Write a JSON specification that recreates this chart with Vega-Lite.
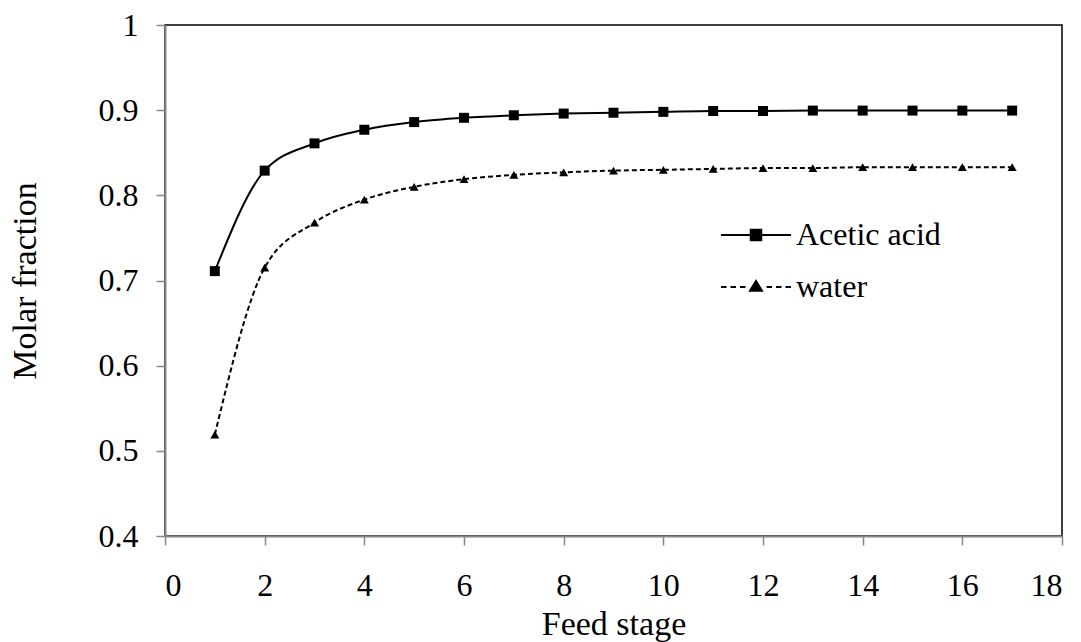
{
  "$schema": "https://vega.github.io/schema/vega-lite/v6.json",
  "autosize": "none",
  "padding": {"left": 165, "top": 25, "right": 19, "bottom": 106},
  "width": 897,
  "height": 511,
  "background": "white",
  "config": {
    "view": {"stroke": "black", "strokeWidth": 1.5},
    "font": "Liberation Serif",
    "axis": {
      "grid": false,
      "domainColor": "#868686",
      "domainWidth": 2,
      "tickColor": "#868686",
      "tickWidth": 1.5,
      "tickSize": 9,
      "labelFont": "Liberation Serif",
      "labelFontSize": 32,
      "labelColor": "black",
      "titleFont": "Liberation Serif",
      "titleFontSize": 34,
      "titleFontWeight": "normal",
      "titleColor": "black"
    },
    "legend": {
      "labelFont": "Liberation Serif"
    }
  },
  "data": {
    "values": [
      {"stage": 1, "series": "Acetic acid", "y": 0.711},
      {"stage": 2, "series": "Acetic acid", "y": 0.829},
      {"stage": 3, "series": "Acetic acid", "y": 0.861},
      {"stage": 4, "series": "Acetic acid", "y": 0.877},
      {"stage": 5, "series": "Acetic acid", "y": 0.886},
      {"stage": 6, "series": "Acetic acid", "y": 0.891},
      {"stage": 7, "series": "Acetic acid", "y": 0.894},
      {"stage": 8, "series": "Acetic acid", "y": 0.896},
      {"stage": 9, "series": "Acetic acid", "y": 0.897},
      {"stage": 10, "series": "Acetic acid", "y": 0.898},
      {"stage": 11, "series": "Acetic acid", "y": 0.899},
      {"stage": 12, "series": "Acetic acid", "y": 0.899},
      {"stage": 13, "series": "Acetic acid", "y": 0.8995},
      {"stage": 14, "series": "Acetic acid", "y": 0.8995},
      {"stage": 15, "series": "Acetic acid", "y": 0.8995},
      {"stage": 16, "series": "Acetic acid", "y": 0.8995},
      {"stage": 17, "series": "Acetic acid", "y": 0.8995},
      {"stage": 1, "series": "water", "y": 0.519},
      {"stage": 2, "series": "water", "y": 0.715},
      {"stage": 3, "series": "water", "y": 0.768},
      {"stage": 4, "series": "water", "y": 0.795},
      {"stage": 5, "series": "water", "y": 0.810},
      {"stage": 6, "series": "water", "y": 0.819},
      {"stage": 7, "series": "water", "y": 0.824},
      {"stage": 8, "series": "water", "y": 0.827},
      {"stage": 9, "series": "water", "y": 0.829},
      {"stage": 10, "series": "water", "y": 0.830},
      {"stage": 11, "series": "water", "y": 0.831},
      {"stage": 12, "series": "water", "y": 0.832},
      {"stage": 13, "series": "water", "y": 0.832},
      {"stage": 14, "series": "water", "y": 0.833},
      {"stage": 15, "series": "water", "y": 0.833},
      {"stage": 16, "series": "water", "y": 0.833},
      {"stage": 17, "series": "water", "y": 0.833}
    ]
  },
  "encoding": {
    "x": {
      "field": "stage", "type": "quantitative", "title": "Feed stage",
      "scale": {"domain": [0, 18], "nice": false, "zero": false},
      "axis": {"values": [0, 2, 4, 6, 8, 10, 12, 14, 16, 18], "labelPadding": 25, "titlePadding": 6}
    },
    "y": {
      "field": "y", "type": "quantitative", "title": "Molar  fraction",
      "scale": {"domain": [0.4, 1], "nice": false, "zero": false},
      "axis": {"values": [0.4, 0.5, 0.6, 0.7, 0.8, 0.9, 1], "format": "~g", "labelPadding": 18, "titlePadding": 56}
    }
  },
  "layer": [
    {
      "mark": {"type": "point", "filled": false, "color": "black", "strokeWidth": 2, "opacity": 1, "size": 0},
      "encoding": {
        "shape": {
          "field": "series", "type": "nominal",
          "scale": {"domain": ["Acetic acid", "water"], "range": [
            "M-1,0H1M-0.15,-0.15H0.15V0.15H-0.15ZM-0.15,-0.1H0.15M-0.15,-0.05H0.15M-0.15,0.05H0.15M-0.15,0.1H0.15",
            "M-1,0H-0.843M-0.729,0H-0.572M-0.458,0H-0.301M0.301,0H0.458M0.572,0H0.729M0.843,0H1M0,-0.17L0.17,0.11H-0.17ZM-0.03,-0.12H0.03M-0.061,-0.07H0.061M-0.091,-0.02H0.091M-0.121,0.03H0.121M-0.152,0.08H0.152"
          ]},
          "legend": {
            "title": null,
            "orient": "none",
            "legendX": 555,
            "legendY": 174,
            "symbolSize": 4900,
            "symbolFillColor": "black",
            "symbolStrokeColor": "black",
            "symbolStrokeWidth": 2,
            "symbolOpacity": 1,
            "labelFont": "Liberation Serif",
            "labelFontSize": 32,
            "labelColor": "black",
            "labelOffset": 4,
            "rowPadding": -18
          }
        }
      }
    },
    {
      "transform": [{"filter": "datum.series === 'Acetic acid'"}],
      "mark": {"type": "line", "interpolate": "monotone", "color": "black", "strokeWidth": 2}
    },
    {
      "transform": [{"filter": "datum.series === 'water'"}],
      "mark": {"type": "line", "interpolate": "monotone", "color": "black", "strokeWidth": 2, "strokeDash": [5, 3]}
    },
    {
      "transform": [{"filter": "datum.series === 'Acetic acid'"}],
      "mark": {"type": "point", "shape": "square", "filled": true, "color": "black", "opacity": 1, "size": 100}
    },
    {
      "transform": [{"filter": "datum.series === 'water'"}],
      "mark": {"type": "point", "shape": "triangle-up", "filled": true, "color": "black", "opacity": 1, "size": 80}
    }
  ]
}
